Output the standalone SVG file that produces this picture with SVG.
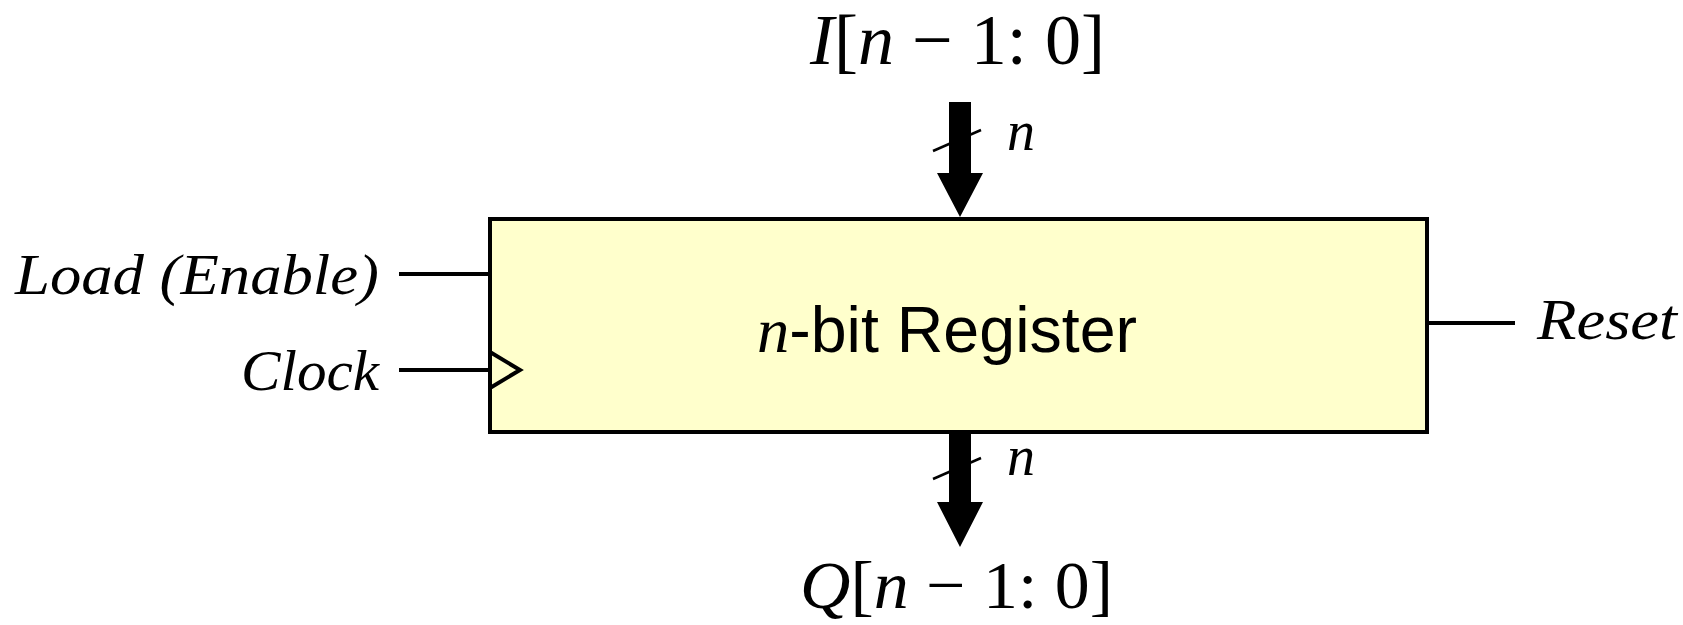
<svg xmlns="http://www.w3.org/2000/svg" width="1683" height="625" viewBox="0 0 1683 625">
<style>
.math{font-family:"Liberation Serif","DejaVu Serif",serif;fill:#000}
.it{font-style:italic}
.wire{stroke:#000;stroke-width:4;fill:none}
.slash{stroke:#000;stroke-width:2.5;fill:none}
.bus{fill:#000;stroke:none}
.lbl{font-family:"Liberation Sans",Arial,sans-serif;fill:#000}
</style>
<rect width="1683" height="625" fill="#fff"/>
<g id="register">
<rect x="490" y="219" width="937" height="213" fill="#FFFFCC" stroke="#000" stroke-width="4"/>
<polyline points="490,352 520,370 490,388" fill="none" stroke="#000" stroke-width="4"/>
<text x="947" y="352" text-anchor="middle" class="lbl" font-size="64" textLength="380" lengthAdjust="spacingAndGlyphs"><tspan class="math it">n</tspan>-bit Register</text>
</g>
<g id="input-label">
<text x="810" y="64" class="math" font-size="72" textLength="295" lengthAdjust="spacingAndGlyphs"><tspan class="it">I</tspan>[<tspan class="it">n</tspan> − 1: 0]</text>
</g>
<g id="output-label">
<text x="800" y="608" class="math" font-size="68" textLength="313" lengthAdjust="spacingAndGlyphs"><tspan class="it">Q</tspan>[<tspan class="it">n</tspan> − 1: 0]</text>
</g>
<g id="load-label">
<text x="15" y="294" class="math it" font-size="56" textLength="364" lengthAdjust="spacingAndGlyphs">Load (Enable)</text>
</g>
<g id="clock-label">
<text x="241" y="390" class="math it" font-size="56" textLength="138" lengthAdjust="spacingAndGlyphs">Clock</text>
</g>
<g id="reset-label">
<text x="1537" y="339" class="math it" font-size="56" textLength="140" lengthAdjust="spacingAndGlyphs">Reset</text>
</g>
<g id="connectors">
<line class="wire" x1="399" y1="274" x2="490" y2="274"/>
<line class="wire" x1="399" y1="370" x2="490" y2="370"/>
<line class="wire" x1="1427" y1="323" x2="1515" y2="323"/>
<polygon class="bus" points="949,102 971,102 971,173 983,173 960,217 937,173 949,173"/>
<line class="slash" x1="933" y1="151" x2="981" y2="130"/>
<text x="1007" y="150" class="math it" font-size="56">n</text>
<polygon class="bus" points="949,432 971,432 971,502 983,502 960,547 937,502 949,502"/>
<line class="slash" x1="933" y1="479" x2="981" y2="458"/>
<text x="1007" y="475" class="math it" font-size="56">n</text>
</g>
</svg>
